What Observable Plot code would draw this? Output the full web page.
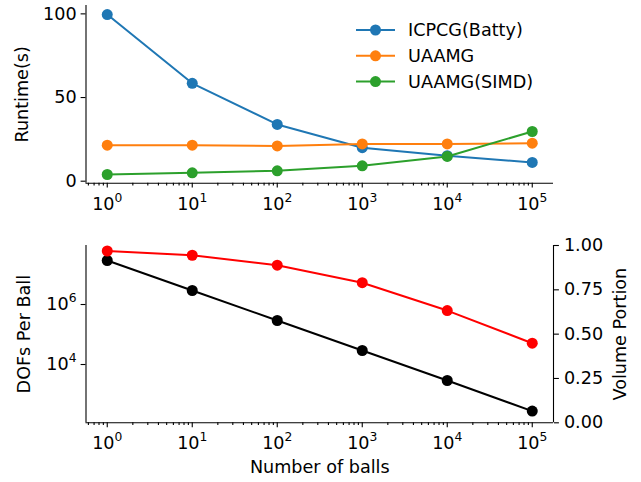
<!DOCTYPE html>
<html>
<head>
<meta charset="utf-8">
<script src="https://cdn.jsdelivr.net/npm/d3@7"></script>
<script src="https://cdn.jsdelivr.net/npm/@observablehq/plot@0.6"></script>
<style>
html, body { margin: 0; padding: 0; background: #fff; }
#chart { position: relative; width: 641px; height: 482px; background: #fff; }
#chart svg { position: absolute; left: 0; }
</style>
</head>
<body>
<div id="chart"></div>
<script>
// ---- data ----
const balls = [1, 10, 100, 1000, 10000, 100000];
const xTickLabels = ["10⁰", "10¹", "10²", "10³", "10⁴", "10⁵"];
const seriesNames = ["ICPCG(Batty)", "UAAMG", "UAAMG(SIMD)"];
const seriesColors = ["#1f77b4", "#ff7f0e", "#2ca02c"];
const icpcgBatty = [99.6, 58.5, 33.9, 20.0, 15.2, 11.2];
const uaamg = [21.5, 21.5, 21.1, 22.3, 22.3, 22.7];
const uaamgSimd = [4.0, 5.0, 6.2, 9.2, 14.8, 29.7];
const runtimeTicks = [0, 50, 100];
const dofsPerBall = [2.93e7, 2.93e6, 2.93e5, 2.93e4, 2.93e3, 2.8e2];
const dofTicks = [1e4, 1e6];
const dofTickLabels = ["10⁴", "10⁶"];
const volumePortion = [0.969, 0.945, 0.889, 0.790, 0.633, 0.449];
const volumeTicks = [0, 0.25, 0.5, 0.75, 1];

// ---- layout ----
const W = 641;
const FS = 17.6;
const FONT = {fontFamily: "DejaVu Sans", fontSize: FS + "px", color: "black", background: "transparent", overflow: "visible"};
const xDomain = [Math.pow(10, -0.25), Math.pow(10, 5.25)];
const mL = 85.5, mR = 88;
const minorTicks = [];
for (let e = -1; e <= 5; e++) for (let m = 2; m <= 9; m++) {
  const v = m * Math.pow(10, e);
  if (v >= xDomain[0] && v <= xDomain[1]) minorTicks.push(v);
}
const xFmt = d => xTickLabels[balls.indexOf(d)];
const spineW = 1.1;

function xAxes() {
  return [
    Plot.axisX(minorTicks, {tickSize: 2.8, tickFormat: () => "", strokeWidth: spineW, label: null, fontSize: FS}),
    Plot.axisX(balls, {tickSize: 4.9, tickPadding: 9.0, tickFormat: xFmt, strokeWidth: spineW, label: null, fontSize: FS})
  ];
}

// rebuild "10ⁿ" labels with a real superscript tspan
const supMap = {"⁰": "0", "¹": "1", "²": "2", "³": "3", "⁴": "4", "⁵": "5", "⁶": "6"};
function fixSuperscripts(svg) {
  svg.setAttribute("font-size", FS);
  svg.setAttribute("font-family", "DejaVu Sans");
  d3.select(svg).selectAll("text").each(function() {
    const t = this.textContent;
    const m = /^10([⁰¹²³⁴⁵⁶])$/.exec(t);
    if (!m) return;
    const el = d3.select(this);
    el.text("10");
    el.append("tspan").attr("font-size", FS * 0.7).attr("dy", -7.9).text(supMap[m[1]]);
  });
}

const labelOpts = {textAnchor: "middle", lineAnchor: "middle", fontSize: FS};

// ---- top panel ----
const topY = [-1.2, 105];
const runtimeSeries = [icpcgBatty, uaamg, uaamgSimd];
const seriesMarks = runtimeSeries.flatMap((vals, i) => [
  Plot.line(balls, {x: d => d, y: (d, j) => vals[j], stroke: seriesColors[i], strokeWidth: 2}),
  Plot.dot(balls, {x: d => d, y: (d, j) => vals[j], fill: seriesColors[i], r: 5.5})
]);
const topPlot = Plot.plot({
  width: W, height: 230,
  marginLeft: mL, marginRight: mR, marginTop: 5, marginBottom: 47.3,
  style: FONT,
  x: {type: "log", domain: xDomain},
  y: {domain: topY},
  marks: [
    ...xAxes(),
    Plot.axisY(runtimeTicks, {tickSize: 4.9, tickPadding: 4.5, strokeWidth: spineW, label: null, fontSize: FS}),
    Plot.ruleX([xDomain[0]], {strokeWidth: spineW}),
    Plot.ruleY([topY[0]], {strokeWidth: spineW}),
    ...seriesMarks,
    Plot.text(["Runtime(s)"], {text: d => d, frameAnchor: "left", rotate: -90, dx: -64, ...labelOpts})
  ]
});
topPlot.style.top = "0px";
fixSuperscripts(topPlot);

// legend
const lg = d3.select(topPlot).append("g")
  .attr("font-family", "DejaVu Sans").attr("font-size", FS).attr("text-anchor", "start");
seriesNames.forEach((name, i) => {
  const y = 30 + i * 25.8;
  lg.append("line").attr("x1", 356).attr("x2", 395).attr("y1", y).attr("y2", y)
    .attr("stroke", seriesColors[i]).attr("stroke-width", 2);
  lg.append("circle").attr("cx", 375.5).attr("cy", y).attr("r", 5.5).attr("fill", seriesColors[i]);
  lg.append("text").attr("x", 408).attr("y", y).attr("dy", "0.36em")
    .attr("text-anchor", "start").attr("fill", "black").text(name);
});

// ---- bottom panel (log DOFs, left axis) ----
const botLogY = [Math.pow(10, 2.057), Math.pow(10, 7.967)];
const bMT = 15, bMB = 59.7, bH = 252;
const botPlot = Plot.plot({
  width: W, height: bH,
  marginLeft: mL, marginRight: mR, marginTop: bMT, marginBottom: bMB,
  style: FONT,
  x: {type: "log", domain: xDomain},
  y: {type: "log", domain: botLogY},
  marks: [
    ...xAxes(),
    Plot.axisY(dofTicks, {tickSize: 4.9, tickPadding: 4.5, strokeWidth: spineW, tickFormat: d => dofTickLabels[dofTicks.indexOf(d)], label: null, fontSize: FS}),
    Plot.ruleX([xDomain[0]], {strokeWidth: spineW}),
    Plot.ruleY([botLogY[0]], {strokeWidth: spineW}),
    Plot.line(balls, {x: d => d, y: (d, j) => dofsPerBall[j], stroke: "black", strokeWidth: 2}),
    Plot.dot(balls, {x: d => d, y: (d, j) => dofsPerBall[j], fill: "black", r: 5.5}),
    Plot.text(["DOFs Per Ball"], {text: d => d, frameAnchor: "left", rotate: -90, dx: -62, ...labelOpts}),
    Plot.text(["Number of balls"], {text: d => d, frameAnchor: "bottom", dy: 45, ...labelOpts})
  ]
});
botPlot.style.top = "230px";
fixSuperscripts(botPlot);

// ---- bottom panel twin (volume portion, right axis) ----
const botTwin = Plot.plot({
  width: W, height: bH,
  marginLeft: mL, marginRight: mR, marginTop: bMT, marginBottom: bMB,
  style: FONT,
  x: {type: "log", domain: xDomain, axis: null},
  y: {domain: [0, 1]},
  marks: [
    Plot.axisY(volumeTicks, {anchor: "right", tickSize: 4.9, tickPadding: 5.5, strokeWidth: spineW, tickFormat: d3.format(".2f"), label: null, fontSize: FS}),
    Plot.ruleX([xDomain[1]], {strokeWidth: spineW}),
    Plot.line(balls, {x: d => d, y: (d, j) => volumePortion[j], stroke: "red", strokeWidth: 2}),
    Plot.dot(balls, {x: d => d, y: (d, j) => volumePortion[j], fill: "red", r: 5.5}),
    Plot.text(["Volume Portion"], {text: d => d, frameAnchor: "right", rotate: -90, dx: 67, ...labelOpts})
  ]
});
botTwin.style.top = "230px";
botTwin.setAttribute("font-size", FS);

const chart = document.getElementById("chart");
chart.appendChild(topPlot);
chart.appendChild(botPlot);
chart.appendChild(botTwin);
</script>
</body>
</html>
